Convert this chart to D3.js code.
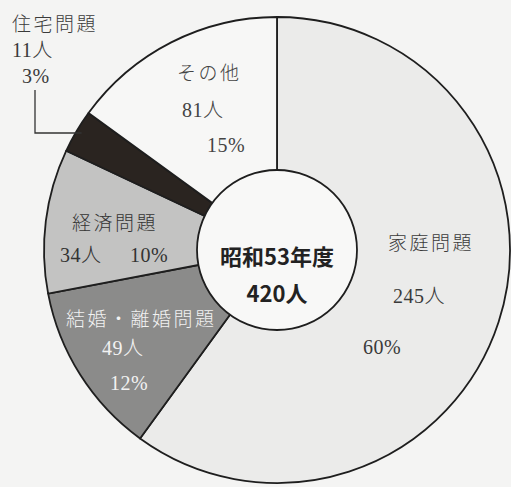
<!DOCTYPE html>
<html>
<head>
<meta charset="utf-8">
<script src="https://cdn.jsdelivr.net/npm/d3@7"></script>
<style>
  html, body { margin: 0; padding: 0; background: #f4f4f3; }
  svg { display: block; }
</style>
</head>
<body>
<div id="chart"></div>
<script>
// data, clockwise from 12 o'clock
const categories = ["家庭問題", "結婚・離婚問題", "経済問題", "住宅問題", "その他"];
const counts = [245, 49, 34, 11, 81];
const percents = [60, 12, 10, 3, 15];
const centerTitle = "昭和53年度";
const centerTotal = "420人";

const width = 511, height = 487;
const cx = 277, cy = 250, outerR = 233, innerR = 80;

const fills = ["#ebebea", "#8b8b8a", "#c3c3c2", "#2a2420", "#f7f7f6"];
const textFill = ["#3a3a3a", "#f2f2f2", "#333", "#3a3a3a", "#444"];

// label layout: [name, count, percent] -> [x, baseline]
const labelPos = {
  "家庭問題":     [[388, 250], [393, 303], [363, 354]],
  "結婚・離婚問題": [[66, 326], [102, 355], [110, 390]],
  "経済問題":     [[72, 230], [60, 262], [130, 262]],
  "住宅問題":     [[12, 31], [12, 57], [22, 83]],
  "その他":       [[177, 80], [182, 117], [207, 152]]
};

const svg = d3.select("#chart")
  .append("svg")
  .attr("width", width)
  .attr("height", height);

const g = svg.append("g")
  .attr("transform", `translate(${cx}, ${cy})`);

const pie = d3.pie().sort(null).value(function(d) { return d; });
const arcs = pie(percents);

const arc = d3.arc().innerRadius(0).outerRadius(outerR);

g.selectAll("path.slice")
  .data(arcs)
  .enter().append("path")
  .attr("class", "slice")
  .attr("d", arc)
  .attr("fill", function(d, i) { return fills[i]; })
  .attr("stroke", "#1e1e1e")
  .attr("stroke-width", 1.8)
  .attr("stroke-linejoin", "round");

// center disc
g.append("circle")
  .attr("r", innerR)
  .attr("fill", "#f8f8f7")
  .attr("stroke", "#1e1e1e")
  .attr("stroke-width", 1.8);

g.append("text")
  .attr("x", 0).attr("y", 15)
  .attr("text-anchor", "middle")
  .attr("font-family", "'Noto Sans CJK JP', sans-serif")
  .attr("font-weight", "bold")
  .attr("font-size", 22)
  .attr("fill", "#222")
  .text(centerTitle);

g.append("text")
  .attr("x", 0).attr("y", 52)
  .attr("text-anchor", "middle")
  .attr("font-family", "'Noto Sans CJK JP', sans-serif")
  .attr("font-weight", "bold")
  .attr("font-size", 22)
  .attr("fill", "#222")
  .text(centerTotal);

// slice labels
const labelFont = "'Liberation Serif', 'Noto Sans CJK JP', serif";
categories.forEach(function(c, i) {
  const pos = labelPos[c];
  const lines = [c, counts[i] + "人", percents[i] + "%"];
  lines.forEach(function(t, j) {
    svg.append("text")
      .attr("x", pos[j][0])
      .attr("y", pos[j][1])
      .attr("font-family", labelFont)
      .attr("font-weight", 300)
      .attr("font-size", j === 0 ? 19 : 20)
      .attr("letter-spacing", j === 0 ? 2.5 : 0.5)
      .attr("fill", textFill[i])
      .text(t);
  });
});

// leader line for the small slice
const small = arcs[3];
const midA = (small.startAngle + small.endAngle) / 2;
const tipX = cx + Math.sin(midA) * (outerR - 6);
const tipY = cy - Math.cos(midA) * (outerR - 6);
svg.append("path")
  .attr("d", `M35,90 V133 H${tipX}`)
  .attr("fill", "none")
  .attr("stroke", "#333")
  .attr("stroke-width", 1.3);
</script>
</body>
</html>
